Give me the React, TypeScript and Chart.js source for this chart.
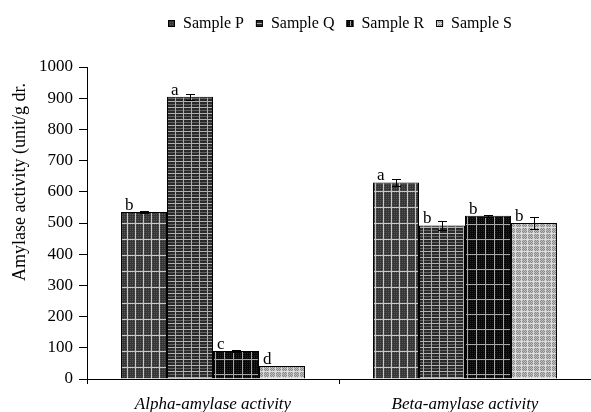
import React, { useEffect, useRef } from 'react';
import { Chart, registerables } from 'chart.js';

Chart.register(...registerables);

const categories = ['Alpha-amylase activity', 'Beta-amylase activity'];
const seriesNames = ['Sample P', 'Sample Q', 'Sample R', 'Sample S'];
const sampleP = [535, 630];
const sampleQ = [905, 492];
const sampleR = [90, 523];
const sampleS = [42, 500];
const errP = [3, 12];
const errQ = [10, 13];
const errR = [2, 3];
const errS = [1, 20];
const lettersP = ['b', 'a'];
const lettersQ = ['a', 'b'];
const lettersR = ['c', 'b'];
const lettersS = ['d', 'b'];
const yTickValues = [0, 100, 200, 300, 400, 500, 600, 700, 800, 900, 1000];
const yTitle = 'Amylase activity (unit/g dr.';

const FONT = "'Liberation Serif', 'Times New Roman', serif";

function makePattern(kind: string): CanvasPattern | string {
  const c = document.createElement('canvas');
  let w = 8, h = 16;
  if (kind === 'Q') { w = 8; h = 6; }
  if (kind === 'R') { w = 9; h = 15; }
  if (kind === 'S') { w = 6; h = 6; }
  c.width = w; c.height = h;
  const g = c.getContext('2d');
  if (!g) return '#444';
  if (kind === 'P') {
    g.fillStyle = '#363636'; g.fillRect(0, 0, w, h);
    g.fillStyle = '#585858';
    for (let x = 0; x < w; x += 2) for (let y = 0; y < h; y += 2) g.fillRect(x, y, 1, 1);
    g.fillStyle = '#c8c8c8';
    g.fillRect(7, 0, 1, h); g.fillRect(0, 15, w, 1);
  } else if (kind === 'Q') {
    g.fillStyle = '#2a2a2a'; g.fillRect(0, 0, w, h);
    g.fillStyle = '#626262'; g.fillRect(0, 2, w, 1);
    g.fillStyle = '#b0b0b0'; g.fillRect(0, 5, w, 1); g.fillRect(7, 0, 1, h);
  } else if (kind === 'R') {
    g.fillStyle = '#080808'; g.fillRect(0, 0, w, h);
    g.fillStyle = '#242424';
    for (let x = 0; x < w; x += 2) for (let y = 0; y < h; y += 2) g.fillRect(x, y, 1, 1);
    g.fillStyle = '#a8a8a8';
    g.fillRect(8, 0, 1, h); g.fillRect(0, 14, w, 1);
  } else {
    g.fillStyle = '#888888'; g.fillRect(0, 0, w, h);
    g.fillStyle = '#c0c0c0';
    for (let x = 0; x < w; x++) for (let y = 0; y < h; y++) if ((x + y) % 2 === 0) g.fillRect(x, y, 1, 1);
    g.fillStyle = '#dcdcdc';
    g.fillRect(5, 0, 1, h); g.fillRect(0, 5, w, 1);
  }
  const p = g.createPattern(c, 'repeat');
  return p || '#444';
}

export default function App() {
  const ref = useRef<HTMLCanvasElement | null>(null);

  useEffect(() => {
    if (!ref.current) return;
    const values = [sampleP, sampleQ, sampleR, sampleS];
    const errors = [errP, errQ, errR, errS];
    const letters = [lettersP, lettersQ, lettersR, lettersS];
    const kinds = ['P', 'Q', 'R', 'S'];
    const fills = kinds.map((k) => makePattern(k));

    const overlay = {
      id: 'overlay',
      afterDatasetsDraw(chart: any) {
        const ctx = chart.ctx as CanvasRenderingContext2D;
        const yScale = chart.scales.y;
        ctx.save();
        ctx.strokeStyle = '#000';
        ctx.lineWidth = 1;
        ctx.fillStyle = '#000';
        ctx.font = `17px ${FONT}`;
        ctx.textAlign = 'left';
        ctx.textBaseline = 'alphabetic';
        values.forEach((vals, i) => {
          const meta = chart.getDatasetMeta(i);
          vals.forEach((v, j) => {
            const bar = meta.data[j] as any;
            const cx = Math.round(bar.x) + 0.5;
            const e = errors[i][j];
            const yt = Math.round(yScale.getPixelForValue(v + e)) + 0.5;
            const yb = Math.round(yScale.getPixelForValue(v - e)) + 0.5;
            ctx.beginPath();
            ctx.moveTo(cx, yt); ctx.lineTo(cx, yb);
            ctx.moveTo(cx - 4.5, yt); ctx.lineTo(cx + 4.5, yt);
            ctx.moveTo(cx - 4.5, yb); ctx.lineTo(cx + 4.5, yb);
            ctx.stroke();
            const left = bar.x - bar.width / 2;
            ctx.fillText(letters[i][j], left + 4, bar.y - 2);
          });
        });
        ctx.restore();
      },
      afterDraw(chart: any) {
        const ctx = chart.ctx as CanvasRenderingContext2D;
        ctx.save();
        ctx.fillStyle = '#000';
        // legend
        ctx.font = `16px ${FONT}`;
        ctx.textBaseline = 'middle';
        ctx.textAlign = 'left';
        const box = 7, gapBox = 8, gapItem = 12;
        const widths = seriesNames.map((n) => ctx.measureText(n).width);
        let total = 0;
        widths.forEach((w, i) => { total += box + gapBox + w + (i < widths.length - 1 ? gapItem : 0); });
        let x = Math.round(340 - total / 2);
        const ly = 23;
        seriesNames.forEach((n, i) => {
          ctx.fillStyle = fills[i] as any;
          ctx.fillRect(x, ly - 3, box, box);
          ctx.strokeStyle = '#000';
          ctx.lineWidth = 1;
          ctx.strokeRect(x + 0.5, ly - 2.5, box - 1, box - 1);
          ctx.fillStyle = '#000';
          ctx.fillText(n, x + box + gapBox, ly + 1);
          x += box + gapBox + widths[i] + gapItem;
        });
        // y title
        ctx.font = `18px ${FONT}`;
        ctx.translate(20, 182);
        ctx.rotate(-Math.PI / 2);
        ctx.textAlign = 'center';
        ctx.textBaseline = 'middle';
        ctx.fillText(yTitle, 0, 0);
        ctx.restore();
      },
    };

    const chart = new Chart(ref.current, {
      type: 'bar',
      data: {
        labels: categories,
        datasets: seriesNames.map((name, i) => ({
          label: name,
          data: values[i],
          backgroundColor: fills[i] as any,
          borderColor: '#000',
          borderWidth: 1,
          barPercentage: 1,
          categoryPercentage: 0.73,
        })),
      },
      options: {
        animation: false,
        responsive: true,
        maintainAspectRatio: false,
        layout: { padding: { top: 67, left: 0, right: 0, bottom: 0 } },
        plugins: { legend: { display: false }, tooltip: { enabled: false } },
        scales: {
          x: {
            grid: { display: true, drawOnChartArea: false, drawTicks: true, tickLength: 5, color: '#000', offset: true },
            border: { display: true, color: '#000', width: 1 },
            ticks: { color: '#000', padding: 10, font: { family: FONT, size: 17, style: 'italic' }, maxRotation: 0, autoSkip: false },
            afterFit: (s: any) => { s.height = 33; },
          },
          y: {
            min: 0,
            max: 1000,
            afterBuildTicks: (s: any) => { s.ticks = yTickValues.map((v) => ({ value: v })); },
            grid: { display: true, drawOnChartArea: false, drawTicks: true, tickLength: 8, color: '#000' },
            border: { display: true, color: '#000', width: 1 },
            ticks: { color: '#000', padding: 6, font: { family: FONT, size: 17 }, callback: (v: any) => String(v) },
            afterFit: (s: any) => { s.width = 87; },
          },
        },
      },
      plugins: [overlay],
    });
    return () => chart.destroy();
  }, []);

  return (
    <div style={{ position: 'fixed', left: 0, top: 0, width: 591, height: 412, background: '#fff' }}>
      <canvas ref={ref} />
    </div>
  );
}
